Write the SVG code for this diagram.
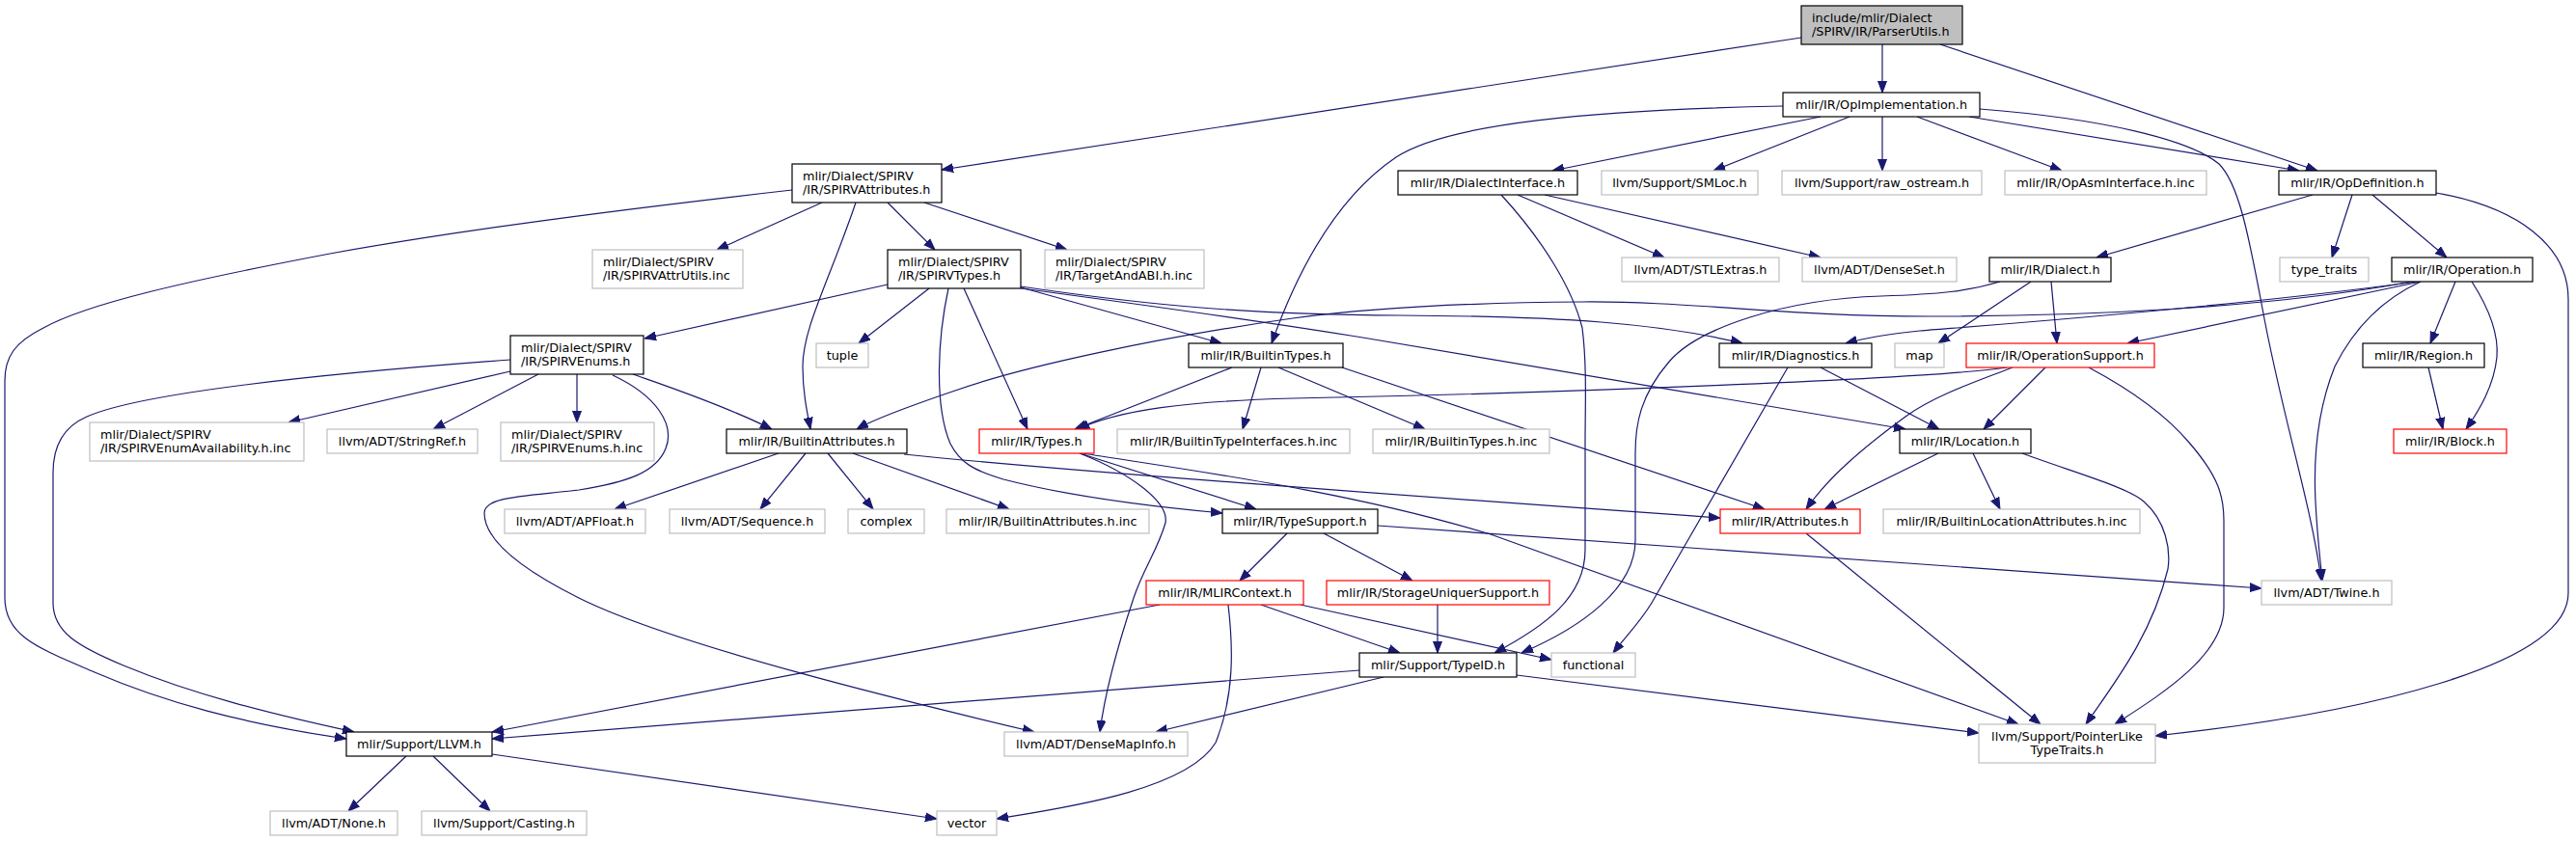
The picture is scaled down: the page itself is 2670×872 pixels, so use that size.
<svg xmlns="http://www.w3.org/2000/svg" width="2670" height="872" viewBox="0 0 2670 872">
<style>
rect{fill:#ffffff;stroke-width:1.2}
.n{stroke:#000000}
.g{stroke:#bfbfbf}
.r{stroke:#ff0000}
.root{fill:#bfbfbf;stroke:#000000}
text{font-family:"DejaVu Sans","Liberation Sans",sans-serif;font-size:12.8px;fill:#000000}
.c{text-anchor:middle}
.e path{fill:none;stroke:#191970;stroke-width:1.2;marker-end:url(#a)}
</style>
<defs>
<marker id="a" markerWidth="12" markerHeight="10" refX="12" refY="5" orient="auto" markerUnits="userSpaceOnUse"><path d="M0,0.5 L12,5 L0,9.5 z" fill="#191970" stroke="#191970" stroke-width="1"/></marker>
</defs>
<rect x="0" y="0" width="2670" height="872" style="fill:#ffffff;stroke:none"/>
<g class="e" id="edges">
<path d="M1867,39 L976,176"/>
<path d="M1951,46 L1951,96"/>
<path d="M2011,46 L2402,177"/>
<path d="M1848,110 C1650,114 1500,128 1447,163 C1385,205 1345,280 1318,356"/>
<path d="M1887,121 L1609,177"/>
<path d="M1917,121 L1776,177"/>
<path d="M1951,121 L1951,177"/>
<path d="M1987,121 L2137,177"/>
<path d="M2041,121 L2383,177"/>
<path d="M2052,113 C2180,123 2270,145 2300,170 C2320,190 2330,240 2345,320 C2365,430 2395,520 2406,602"/>
<path d="M821,197 C600,222 440,245 342,263 C190,292 90,315 45,340 C15,355 5,370 5,395 L5,620 C5,660 40,672 98,697 C170,728 250,750 359,766"/>
<path d="M852,210 L743,259"/>
<path d="M887,210 C860,290 832,340 832,380 C832,405 836,425 840,445"/>
<path d="M920,210 L969,259"/>
<path d="M958,210 L1106,259"/>
<path d="M920,295 L668,351"/>
<path d="M963,299 L890,356"/>
<path d="M983,299 C972,350 968,420 985,460 C995,480 1010,488 1040,497 C1110,515 1190,525 1267,532"/>
<path d="M999,299 L1065,445"/>
<path d="M1058,298 L1266,356"/>
<path d="M1058,297 C1200,318 1300,326 1450,327 C1620,328 1720,335 1806,356"/>
<path d="M1058,299 C1200,318 1300,332 1400,348 C1600,380 1800,415 1975,445"/>
<path d="M529,385 L299,438"/>
<path d="M558,388 L449,445"/>
<path d="M598,388 L598,438"/>
<path d="M635,389 C680,410 700,440 690,465 C680,490 650,500 600,508 C540,515 502,515 502,532 C502,560 540,590 600,620 C700,670 950,730 1072,759"/>
<path d="M656,388 C690,400 750,420 800,445"/>
<path d="M529,373 C300,390 140,410 90,432 C60,445 55,470 55,490 L55,625 C55,655 80,670 128,690 C200,720 280,740 367,759"/>
<path d="M807,470 L637,528"/>
<path d="M835,470 L788,528"/>
<path d="M858,470 L905,528"/>
<path d="M884,470 L1046,528"/>
<path d="M937,471 C1100,488 1400,510 1783,537"/>
<path d="M1119,470 L1302,528"/>
<path d="M1119,470 C1170,490 1212,520 1208,542 C1200,570 1185,590 1175,620 C1155,680 1145,720 1140,759"/>
<path d="M1122,470 C1250,490 1400,510 1545,554 L2092,751"/>
<path d="M1277,381 L1114,445"/>
<path d="M1307,381 L1288,445"/>
<path d="M1325,381 L1477,445"/>
<path d="M1391,381 L1829,528"/>
<path d="M2080,381 C2000,393 1600,408 1340,413 C1230,416 1160,425 1117,445"/>
<path d="M2120,381 L2056,445"/>
<path d="M2086,381 C2050,395 2005,410 1975,432 C1930,465 1895,495 1872,528"/>
<path d="M2165,381 C2210,405 2245,430 2270,460 C2300,495 2305,515 2305,540 L2305,630 C2305,680 2240,720 2192,751"/>
<path d="M1853,381 L1712,625 C1700,645 1685,660 1672,677"/>
<path d="M1887,381 L2010,445"/>
<path d="M2073,292 C2040,302 2010,305 1950,307 C1850,310 1760,340 1730,375 C1700,410 1695,440 1695,470 L1695,560 C1695,610 1640,650 1577,677"/>
<path d="M2105,292 L2009,356"/>
<path d="M2126,292 L2132,356"/>
<path d="M1556,202 C1600,250 1630,300 1640,340 C1645,380 1643,420 1643,460 L1643,570 C1643,620 1600,650 1549,677"/>
<path d="M1573,202 L1725,267"/>
<path d="M1601,202 L1887,267"/>
<path d="M2397,202 L2173,267"/>
<path d="M2438,202 L2417,267"/>
<path d="M2459,202 L2536,267"/>
<path d="M2525,200 C2610,215 2662,255 2662,310 L2662,615 C2662,690 2450,740 2234,763"/>
<path d="M2500,292 C2350,320 2150,328 2000,328 C1850,328 1750,312 1640,313 C1500,314 1400,322 1340,330 C1200,350 1060,380 990,405 C940,422 905,435 888,445"/>
<path d="M2505,292 C2300,320 2050,338 1990,343 C1960,346 1935,350 1913,356"/>
<path d="M2509,292 L2205,356"/>
<path d="M2509,292 C2470,310 2440,340 2420,380 C2400,430 2398,480 2400,520 C2402,560 2405,580 2407,602"/>
<path d="M2545,292 L2519,356"/>
<path d="M2562,292 C2580,320 2590,345 2588,370 C2585,400 2570,425 2556,445"/>
<path d="M2517,381 L2532,445"/>
<path d="M2045,470 L2073,528"/>
<path d="M2009,470 L1891,528"/>
<path d="M2096,470 C2150,490 2205,505 2222,520 C2245,540 2250,570 2247,590 C2230,660 2190,710 2162,751"/>
<path d="M1872,553 L2115,751"/>
<path d="M1334,553 L1285,602"/>
<path d="M1372,553 L1464,602"/>
<path d="M1428,545 L2344,610"/>
<path d="M1202,627 L510,759"/>
<path d="M1307,627 L1451,677"/>
<path d="M1348,627 L1608,684"/>
<path d="M1273,627 C1278,670 1280,720 1260,770 C1230,820 1100,838 1033,849"/>
<path d="M1490,627 L1490,677"/>
<path d="M1409,695 L510,766"/>
<path d="M1434,702 L1198,759"/>
<path d="M1572,700 L2051,760"/>
<path d="M421,784 L361,841"/>
<path d="M449,784 L508,841"/>
<path d="M510,782 L971,849"/>
</g>
<g id="n1"><rect class="root" x="1867" y="6" width="167" height="40"/><text x="1878" y="22.8">include/mlir/Dialect</text><text x="1878" y="37.3">/SPIRV/IR/ParserUtils.h</text></g>
<g id="n2"><rect class="n" x="1848" y="96" width="204" height="25"/><text class="c" x="1950" y="113">mlir/IR/OpImplementation.h</text></g>
<g id="n3"><rect class="n" x="821" y="170" width="155" height="40"/><text x="832" y="186.8">mlir/Dialect/SPIRV</text><text x="832" y="201.3">/IR/SPIRVAttributes.h</text></g>
<g id="n4"><rect class="n" x="2362" y="177" width="163" height="25"/><text class="c" x="2443.5" y="194">mlir/IR/OpDefinition.h</text></g>
<g id="n5"><rect class="n" x="1449" y="177" width="186" height="25"/><text class="c" x="1542" y="194">mlir/IR/DialectInterface.h</text></g>
<g id="n6"><rect class="g" x="1660" y="177" width="162" height="25"/><text class="c" x="1741" y="194">llvm/Support/SMLoc.h</text></g>
<g id="n7"><rect class="g" x="1847" y="177" width="207" height="25"/><text class="c" x="1950.5" y="194">llvm/Support/raw_ostream.h</text></g>
<g id="n8"><rect class="g" x="2078" y="177" width="209" height="25"/><text class="c" x="2182.5" y="194">mlir/IR/OpAsmInterface.h.inc</text></g>
<g id="n9"><rect class="g" x="614" y="259" width="156" height="40"/><text x="625" y="275.8">mlir/Dialect/SPIRV</text><text x="625" y="290.3">/IR/SPIRVAttrUtils.inc</text></g>
<g id="n10"><rect class="n" x="920" y="259" width="138" height="40"/><text x="931" y="275.8">mlir/Dialect/SPIRV</text><text x="931" y="290.3">/IR/SPIRVTypes.h</text></g>
<g id="n11"><rect class="g" x="1083" y="259" width="165" height="40"/><text x="1094" y="275.8">mlir/Dialect/SPIRV</text><text x="1094" y="290.3">/IR/TargetAndABI.h.inc</text></g>
<g id="n12"><rect class="g" x="1681" y="267" width="163" height="25"/><text class="c" x="1762.5" y="284">llvm/ADT/STLExtras.h</text></g>
<g id="n13"><rect class="g" x="1868" y="267" width="160" height="25"/><text class="c" x="1948" y="284">llvm/ADT/DenseSet.h</text></g>
<g id="n14"><rect class="n" x="2062" y="267" width="126" height="25"/><text class="c" x="2125" y="284">mlir/IR/Dialect.h</text></g>
<g id="n15"><rect class="g" x="2363" y="267" width="92" height="25"/><text class="c" x="2409" y="284">type_traits</text></g>
<g id="n16"><rect class="n" x="2479" y="267" width="146" height="25"/><text class="c" x="2552" y="284">mlir/IR/Operation.h</text></g>
<g id="n17"><rect class="n" x="529" y="348" width="138" height="40"/><text x="540" y="364.8">mlir/Dialect/SPIRV</text><text x="540" y="379.3">/IR/SPIRVEnums.h</text></g>
<g id="n18"><rect class="g" x="846" y="356" width="54" height="25"/><text class="c" x="873" y="373">tuple</text></g>
<g id="n19"><rect class="n" x="1232" y="356" width="160" height="25"/><text class="c" x="1312" y="373">mlir/IR/BuiltinTypes.h</text></g>
<g id="n20"><rect class="n" x="1782" y="356" width="158" height="25"/><text class="c" x="1861" y="373">mlir/IR/Diagnostics.h</text></g>
<g id="n21"><rect class="g" x="1964" y="356" width="51" height="25"/><text class="c" x="1989.5" y="373">map</text></g>
<g id="n22"><rect class="r" x="2038" y="356" width="195" height="25"/><text class="c" x="2135.5" y="373">mlir/IR/OperationSupport.h</text></g>
<g id="n23"><rect class="n" x="2449" y="356" width="126" height="25"/><text class="c" x="2512" y="373">mlir/IR/Region.h</text></g>
<g id="n24"><rect class="g" x="93" y="438" width="222" height="40"/><text x="104" y="454.8">mlir/Dialect/SPIRV</text><text x="104" y="469.3">/IR/SPIRVEnumAvailability.h.inc</text></g>
<g id="n25"><rect class="g" x="339" y="445" width="156" height="25"/><text class="c" x="417" y="462">llvm/ADT/StringRef.h</text></g>
<g id="n26"><rect class="g" x="519" y="438" width="159" height="40"/><text x="530" y="454.8">mlir/Dialect/SPIRV</text><text x="530" y="469.3">/IR/SPIRVEnums.h.inc</text></g>
<g id="n27"><rect class="n" x="753" y="445" width="187" height="25"/><text class="c" x="846.5" y="462">mlir/IR/BuiltinAttributes.h</text></g>
<g id="n28"><rect class="r" x="1015" y="445" width="119" height="25"/><text class="c" x="1074.5" y="462">mlir/IR/Types.h</text></g>
<g id="n29"><rect class="g" x="1158" y="445" width="241" height="25"/><text class="c" x="1278.5" y="462">mlir/IR/BuiltinTypeInterfaces.h.inc</text></g>
<g id="n30"><rect class="g" x="1423" y="445" width="183" height="25"/><text class="c" x="1514.5" y="462">mlir/IR/BuiltinTypes.h.inc</text></g>
<g id="n31"><rect class="n" x="1969" y="445" width="136" height="25"/><text class="c" x="2037" y="462">mlir/IR/Location.h</text></g>
<g id="n32"><rect class="r" x="2481" y="445" width="117" height="25"/><text class="c" x="2539.5" y="462">mlir/IR/Block.h</text></g>
<g id="n33"><rect class="g" x="523" y="528" width="146" height="25"/><text class="c" x="596" y="545">llvm/ADT/APFloat.h</text></g>
<g id="n34"><rect class="g" x="694" y="528" width="161" height="25"/><text class="c" x="774.5" y="545">llvm/ADT/Sequence.h</text></g>
<g id="n35"><rect class="g" x="879" y="528" width="79" height="25"/><text class="c" x="918.5" y="545">complex</text></g>
<g id="n36"><rect class="g" x="981" y="528" width="210" height="25"/><text class="c" x="1086" y="545">mlir/IR/BuiltinAttributes.h.inc</text></g>
<g id="n37"><rect class="n" x="1267" y="528" width="161" height="25"/><text class="c" x="1347.5" y="545">mlir/IR/TypeSupport.h</text></g>
<g id="n38"><rect class="r" x="1783" y="528" width="145" height="25"/><text class="c" x="1855.5" y="545">mlir/IR/Attributes.h</text></g>
<g id="n39"><rect class="g" x="1952" y="528" width="266" height="25"/><text class="c" x="2085" y="545">mlir/IR/BuiltinLocationAttributes.h.inc</text></g>
<g id="n40"><rect class="r" x="1188" y="602" width="163" height="25"/><text class="c" x="1269.5" y="619">mlir/IR/MLIRContext.h</text></g>
<g id="n41"><rect class="r" x="1375" y="602" width="231" height="25"/><text class="c" x="1490.5" y="619">mlir/IR/StorageUniquerSupport.h</text></g>
<g id="n42"><rect class="g" x="2344" y="602" width="135" height="25"/><text class="c" x="2411.5" y="619">llvm/ADT/Twine.h</text></g>
<g id="n43"><rect class="n" x="1409" y="677" width="163" height="25"/><text class="c" x="1490.5" y="694">mlir/Support/TypeID.h</text></g>
<g id="n44"><rect class="g" x="1608" y="677" width="87" height="25"/><text class="c" x="1651.5" y="694">functional</text></g>
<g id="n45"><rect class="n" x="359" y="759" width="151" height="25"/><text class="c" x="434.5" y="776">mlir/Support/LLVM.h</text></g>
<g id="n46"><rect class="g" x="1041" y="759" width="190" height="25"/><text class="c" x="1136" y="776">llvm/ADT/DenseMapInfo.h</text></g>
<g id="n47"><rect class="g" x="2051" y="751" width="183" height="40"/><text class="c" x="2142.5" y="767.8">llvm/Support/PointerLike</text><text class="c" x="2142.5" y="782.3">TypeTraits.h</text></g>
<g id="n48"><rect class="g" x="280" y="841" width="132" height="25"/><text class="c" x="346" y="858">llvm/ADT/None.h</text></g>
<g id="n49"><rect class="g" x="437" y="841" width="171" height="25"/><text class="c" x="522.5" y="858">llvm/Support/Casting.h</text></g>
<g id="n50"><rect class="g" x="971" y="841" width="62" height="25"/><text class="c" x="1002" y="858">vector</text></g>
</svg>
